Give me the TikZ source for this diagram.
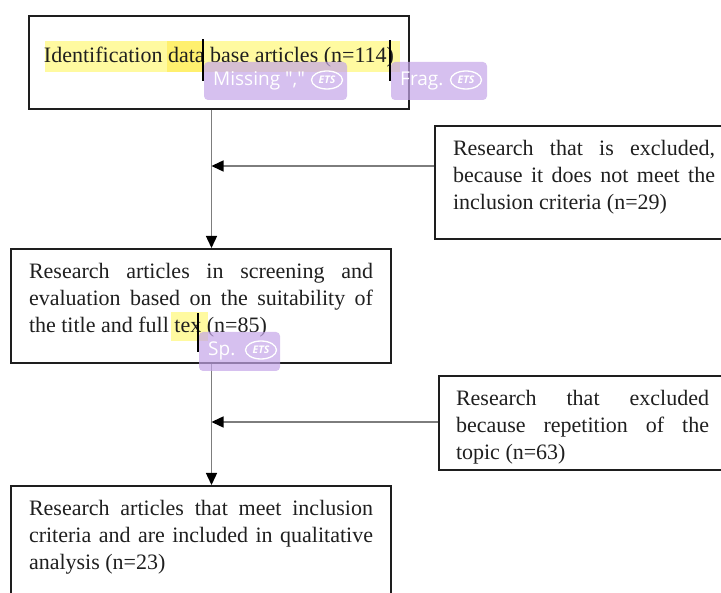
\documentclass[tikz,border=0pt]{standalone}
\usepackage{fontspec}
\setmainfont{Liberation Serif}
\newfontfamily\tagfont{Open Sans}
\usetikzlibrary{arrows.meta,shapes.geometric}
\definecolor{boxline}{RGB}{30,30,30}
\definecolor{flowline}{RGB}{125,125,125}
\definecolor{hlight}{RGB}{255,250,160}
\definecolor{hdark}{RGB}{255,240,110}
\definecolor{tagbg}{RGB}{196,165,232}
\begin{document}
\hyphenpenalty=10000
\tolerance=10000
\begin{tikzpicture}[x=1pt,y=-1pt]
        \tikzstyle{stagebox}=[draw=boxline,line width=2pt,anchor=north west,inner ysep=0pt,inner xsep=18pt,align=justify,
          font=\fontsize{22}{27}\selectfont,text=black!88]
        \tikzstyle{flow}=[draw=flowline,line width=1.4pt,-{Triangle[length=12pt,width=11pt,color=black]}]
        \tikzstyle{tag}=[fill=tagbg,fill opacity=0.7,rounded corners=4pt]
        \tikzstyle{tagtext}=[anchor=west,inner sep=0pt,text=white,font=\tagfont\fontsize{19}{19}\selectfont]
        \tikzstyle{logo}=[draw=white,line width=1.3pt,ellipse,inner sep=0pt,minimum width=31pt,minimum height=18pt,
          text=white,font=\tagfont\bfseries\itshape\fontsize{10.5}{10.5}\selectfont]
        \useasboundingbox (0,0) rectangle (721,593);
        % highlights
        \fill[hlight] (45,41) rectangle (400,72);
        \fill[hdark] (167,41) rectangle (204,72);
        \fill[hlight] (171,312) rectangle (208,341);
        % boxes
        \node [stagebox,align=center,minimum width=380pt,inner xsep=0pt,text height=47pt,text depth=46pt] (ident) at (28,15)
          {Identification data base articles (n=114)};
        \node [stagebox,text width=262pt,text height=30pt,text depth=83pt] (excl1) at (434,125)
          {Research that is excluded, because it does not meet the inclusion criteria (n=29)};
        \node [stagebox,text width=344pt,text height=30pt,text depth=84pt] (screen) at (10,248)
          {Research articles in screening and evaluation based on the suitability of the title and full tex (n=85)};
        \node [stagebox,text width=253pt,inner xsep=17pt,text height=30pt,text depth=64pt] (excl2) at (438,375)
          {Research that excluded because repetition of the topic (n=63)};
        \node [stagebox,text width=344pt,text height=30pt,text depth=100pt] (incl) at (10,485)
          {Research articles that meet inclusion criteria and are included in qualitative analysis (n=23)};
        % connectors
        \coordinate (j1) at (211.5,166);
        \coordinate (j2) at (211.5,422);
        \path[flow] (ident.south -| j1) -- (screen.north -| j1);
        \path[flow] (excl1.west |- j1) -- (j1);
        \path[flow] (screen.south -| j2) -- (incl.north -| j2);
        \path[flow] (excl2.west |- j2) -- (j2);
        % cursors
        \fill[black] (202.3,39) rectangle (204.3,81);
        \fill[black] (389,40) rectangle (391,81);
        \fill[black] (196.7,313) rectangle (198.7,352);
        % checker tags
        \begin{scope}
          \fill[tag] (204,62) rectangle (347,100);
          \node [tagtext] (tag1) at (213,81) {Missing ","};
          \node [logo] (logo1) at (327,80) {ETS};
          \fill[tag] (391,62) rectangle (487,100);
          \node [tagtext] (tag2) at (400,81) {Frag.};
          \node [logo] (logo2) at (466,80) {ETS};
          \fill[tag] (199,332) rectangle (280,371);
          \node [tagtext] (tag3) at (208,351) {Sp.};
          \node [logo] (logo3) at (261,350) {ETS};
        \end{scope}
\end{tikzpicture}
\end{document}
